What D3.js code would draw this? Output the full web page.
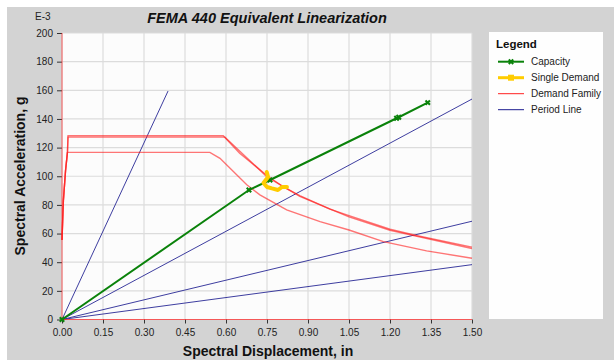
<!DOCTYPE html>
<html>
<head>
<meta charset="utf-8">
<script src="https://cdn.jsdelivr.net/npm/d3@7"></script>
<style>
  body { margin: 0; background: #fff; }
  text { font-family: "Liberation Sans", Arial, sans-serif; }
</style>
</head>
<body>
<div id="chart"></div>
<script>
// FEMA 440 equivalent linearization chart
var xTicks = [0, 0.15, 0.30, 0.45, 0.60, 0.75, 0.90, 1.05, 1.20, 1.35, 1.50];
var yTicks = [0, 20, 40, 60, 80, 100, 120, 140, 160, 180, 200];

// capacity curve (Sd in, Sa in E-3 g)
var capacitySd = [0, 0.684, 0.761, 1.224, 1.232, 1.338];
var capacitySa = [0, 90.4, 97.4, 140.5, 141.2, 151.4];

// single demand squiggle
var singleSd = [0.749, 0.754, 0.737, 0.750, 0.768, 0.790, 0.805, 0.823];
var singleSa = [103, 99.5, 95.3, 92.5, 91.5, 90.4, 92.5, 92.5];

// demand family curves
var demandTopSd = [0, 0.005, 0.013, 0.020, 0.022, 0.590, 0.650, 0.750, 0.810, 0.870, 0.980, 1.050, 1.200, 1.300, 1.500];
var demandTopSa = [55.5, 83, 104, 117, 128.3, 128.3, 116, 100.5, 92.5, 86.5, 77, 72.5, 63, 58.5, 50.5];
var demandMidSd = [0, 0.005, 0.013, 0.020, 0.022, 0.596, 0.750, 0.870, 1.050, 1.200, 1.500];
var demandMidSa = [55.5, 83, 104, 117, 127.3, 127.3, 99.6, 86, 71.6, 62.3, 49.6];
var demandLowSd = [0, 0.005, 0.013, 0.020, 0.541, 0.578, 0.676, 0.724, 0.822, 0.944, 1.050, 1.176, 1.334, 1.500];
var demandLowSa = [55.5, 83, 104, 116.7, 116.7, 112.5, 94, 87, 76.5, 68.3, 62.5, 54.4, 47.9, 42.8];
var demandAxisSd = [0, 0, 1.5];
var demandAxisSa = [200, 0, 0];

// period lines from origin to these end points
var periodEndSd = [0.388, 1.5, 1.5, 1.5];
var periodEndSa = [159.5, 153.9, 68.6, 38.3];

var legendNames = ["Capacity", "Single Demand", "Demand Family", "Period Line"];

var width = 614, height = 360;
var svg = d3.select("#chart").append("svg")
  .attr("width", width)
  .attr("height", height);

// backgrounds
svg.append("rect").attr("x", 7).attr("y", 7).attr("width", width - 7).attr("height", height - 7)
  .attr("fill", "#d3d3d3");

var x = d3.scaleLinear().domain([0, 1.5]).range([62, 472]);
var y = d3.scaleLinear().domain([0, 200]).range([319.5, 33]);

svg.append("rect")
  .attr("x", x(0)).attr("y", y(200))
  .attr("width", x(1.5) - x(0)).attr("height", y(0) - y(200))
  .attr("fill", "#fcfcfc");

// grid
svg.append("g").selectAll("line").data(xTicks).join("line")
  .attr("x1", d => x(d)).attr("x2", d => x(d))
  .attr("y1", y(0)).attr("y2", y(200))
  .attr("stroke", "#dcdcdc").attr("stroke-width", 1.2);
svg.append("g").selectAll("line").data(yTicks).join("line")
  .attr("x1", x(0)).attr("x2", x(1.5))
  .attr("y1", d => y(d)).attr("y2", d => y(d))
  .attr("stroke", "#dcdcdc").attr("stroke-width", 1.2);

// axes
var xAxis = svg.append("g")
  .attr("transform", "translate(0," + y(0) + ")")
  .call(d3.axisBottom(x).tickValues(xTicks).tickFormat(d3.format(".2f")).tickSize(4).tickSizeOuter(0));
var yAxis = svg.append("g")
  .attr("transform", "translate(" + x(0) + ",0)")
  .call(d3.axisLeft(y).tickValues(yTicks).tickSize(5).tickSizeOuter(0));
[xAxis, yAxis].forEach(function(g) {
  g.select(".domain").remove();
  g.selectAll(".tick line").attr("stroke", "#333");
  g.selectAll(".tick text").attr("fill", "#222").style("font-size", "10px")
    .style("font-family", "'Liberation Sans', Arial, sans-serif");
});
xAxis.selectAll(".tick text").attr("dy", "0.9em");
yAxis.selectAll(".tick text").attr("x", -9);

var line = d3.line().x(d => x(d[0])).y(d => y(d[1]));
function pts(sd, sa) { return sd.map(function(v, i) { return [v, sa[i]]; }); }

var plot = svg.append("g");

// period lines
periodEndSd.forEach(function(sd, i) {
  plot.append("path")
    .attr("d", line([[0, 0], [sd, periodEndSa[i]]]))
    .attr("fill", "none").attr("stroke", "#1c1c8f").attr("stroke-width", 1).attr("opacity", 0.85);
});

// demand family
plot.append("path").attr("d", line(pts(demandAxisSd, demandAxisSa)))
  .attr("fill", "none").attr("stroke", "#ff2020").attr("stroke-width", 1).attr("opacity", 0.7);
[[demandTopSd, demandTopSa], [demandMidSd, demandMidSa], [demandLowSd, demandLowSa]].forEach(function(c) {
  plot.append("path").attr("d", line(pts(c[0], c[1])))
    .attr("fill", "none").attr("stroke", "#ff1a1a").attr("stroke-width", 1.4).attr("opacity", 0.6);
});

// capacity
plot.append("path").attr("d", line(pts(capacitySd, capacitySa)))
  .attr("fill", "none").attr("stroke", "#0a820a").attr("stroke-width", 2);
var cross = d3.symbol().type(d3.symbolCross).size(22);
plot.selectAll(".cap").data(pts(capacitySd, capacitySa)).join("path")
  .attr("class", "cap")
  .attr("d", cross)
  .attr("transform", d => "translate(" + x(d[0]) + "," + y(d[1]) + ") rotate(45)")
  .attr("fill", "#0a820a");

// single demand
plot.append("path").attr("d", line(pts(singleSd, singleSa)))
  .attr("fill", "none").attr("stroke", "#ffcc00").attr("stroke-width", 4)
  .attr("stroke-linejoin", "round").attr("stroke-linecap", "round");

// titles
svg.append("text").attr("x", 267).attr("y", 23).attr("text-anchor", "middle")
  .style("font-size", "14.5px").style("font-weight", "bold").style("font-style", "italic")
  .attr("fill", "#111").text("FEMA 440 Equivalent Linearization");
svg.append("text").attr("x", 35).attr("y", 20)
  .style("font-size", "10px").attr("fill", "#222").text("E-3");
svg.append("text").attr("x", 268).attr("y", 356).attr("text-anchor", "middle")
  .style("font-size", "14px").style("font-weight", "bold").attr("fill", "#111")
  .text("Spectral Displacement, in");
svg.append("text").attr("transform", "translate(25,176) rotate(-90)").attr("text-anchor", "middle")
  .style("font-size", "14px").style("font-weight", "bold").attr("fill", "#111")
  .text("Spectral Acceleration, g");

// legend
var lg = svg.append("g");
lg.append("rect").attr("x", 489).attr("y", 32).attr("width", 114).attr("height", 287).attr("fill", "#fefefe");
lg.append("text").attr("x", 496).attr("y", 47.5).style("font-size", "11.5px").style("font-weight", "bold")
  .attr("fill", "#111").text("Legend");
var legColors = ["#0a820a", "#ffcc00", "#ff2020", "#1c1c8f"];
var legWidths = [2, 3, 1, 1];
legendNames.forEach(function(name, i) {
  var ly = 61.7 + i * 16;
  lg.append("line").attr("x1", 498).attr("x2", 524).attr("y1", ly).attr("y2", ly)
    .attr("stroke", legColors[i]).attr("stroke-width", legWidths[i]);
  if (i === 0) {
    lg.append("path").attr("d", cross).attr("transform", "translate(511," + ly + ") rotate(45)")
      .attr("fill", legColors[0]);
  }
  if (i === 1) {
    lg.append("rect").attr("x", 508).attr("y", ly - 3).attr("width", 6).attr("height", 6).attr("fill", legColors[1]);
  }
  lg.append("text").attr("x", 531).attr("y", ly + 3.5).style("font-size", "10px").attr("fill", "#222").text(name);
});
</script>
</body>
</html>
